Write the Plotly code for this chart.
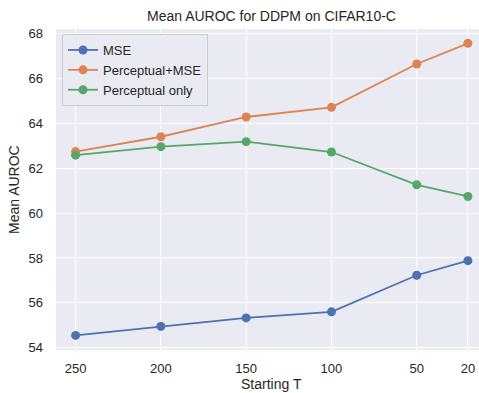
import plotly.graph_objects as go

starting_t = [250, 200, 150, 100, 50, 20]
mse = [54.55, 54.95, 55.33, 55.60, 57.23, 57.88]
perceptual_mse = [62.74, 63.40, 64.28, 64.71, 66.64, 67.56]
perceptual_only = [62.58, 62.96, 63.18, 62.72, 61.26, 60.74]

series = [
    ("MSE", mse, "#4C72B0"),
    ("Perceptual+MSE", perceptual_mse, "#DD8452"),
    ("Perceptual only", perceptual_only, "#55A868"),
]

FONT = "Liberation Sans, Arial, sans-serif"
TXT = "#262626"

fig = go.Figure()
for name, vals, col in series:
    fig.add_trace(go.Scatter(
        x=starting_t, y=vals, name=name, mode="lines+markers",
        line=dict(color=col, width=1.8),
        marker=dict(color=col, size=9),
    ))

W, H = 479, 393
L, R, T, B = 56, 0, 29, 43
pw = W - L - R
ph = H - T - B

fig.update_layout(
    width=W, height=H,
    margin=dict(l=L, r=R, t=T, b=B),
    paper_bgcolor="white",
    plot_bgcolor="#EAEAF2",
    font=dict(family=FONT, color=TXT, size=13),
    showlegend=True,
    legend=dict(
        x=(62 - L) / pw, y=1 - (34 - T) / ph, xanchor="left", yanchor="top",
        bgcolor="#EAEAF2", bordercolor="#CCCCCC", borderwidth=1,
        font=dict(size=13, family=FONT, color=TXT),
        itemwidth=30, tracegroupgap=0,
    ),
    xaxis=dict(
        range=[261.5, 13.5], tickmode="array", tickvals=starting_t,
        ticktext=[str(v) for v in starting_t],
        showgrid=True, gridcolor="white", gridwidth=1.3,
        zeroline=False, showline=False, ticks="", ticklabelstandoff=9,
        tickfont=dict(size=13),
    ),
    yaxis=dict(
        range=[53.9, 68.2], tickmode="array", tickvals=[54, 56, 58, 60, 62, 64, 66, 68],
        showgrid=True, gridcolor="white", gridwidth=1.3,
        zeroline=False, showline=False, ticks="", ticklabelstandoff=12,
        tickfont=dict(size=13),
    ),
    annotations=[
        dict(text="Mean AUROC for DDPM on CIFAR10-C", xref="paper", yref="paper",
             x=(271 - L) / pw, y=1 - (16 - T) / ph, xanchor="center", yanchor="middle",
             showarrow=False, font=dict(size=14, color=TXT)),
        dict(text="Starting T", xref="paper", yref="paper",
             x=(271 - L) / pw, y=1 - (384 - T) / ph, xanchor="center", yanchor="middle",
             showarrow=False, font=dict(size=14, color=TXT)),
        dict(text="Mean AUROC", xref="paper", yref="paper", textangle=-90,
             x=(14 - L) / pw, y=1 - (190 - T) / ph, xanchor="center", yanchor="middle",
             showarrow=False, font=dict(size=14, color=TXT)),
    ],
)

fig.write_html("out.html")
